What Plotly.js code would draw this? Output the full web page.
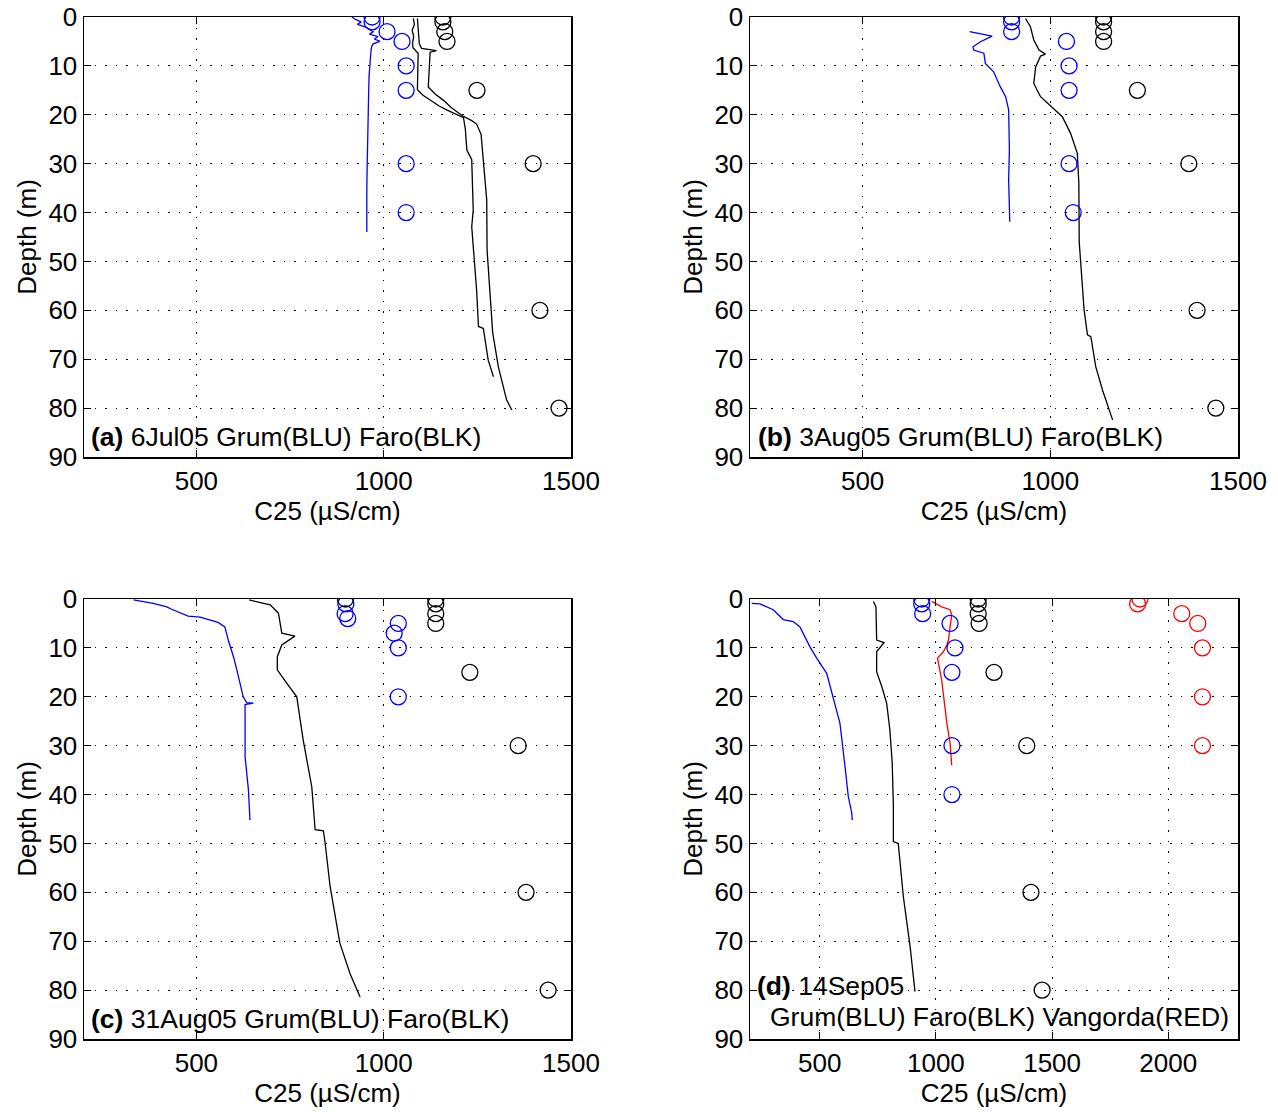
<!DOCTYPE html>
<html>
<head>
<meta charset="utf-8">
<script src="https://cdn.plot.ly/plotly-3.0.1.min.js"></script>
<style>html,body{margin:0;padding:0;background:#fff;}#chart{width:1278px;height:1112px;}</style>
</head>
<body>
<div id="chart"></div>
<script>
// ---------- Panel (a) 6Jul05 ----------
const aGrumLineC = [915, 925, 940, 930, 950, 960, 972, 962, 985, 975, 990, 972, 968, 966, 965, 963, 961, 960, 958, 957, 956, 955, 955, 955];
const aGrumLineD = [0, 0.5, 1, 1.5, 2, 2.5, 3, 3.5, 4, 4.5, 5, 5.5, 6, 7, 8, 10, 12, 15, 20, 25, 30, 35, 40, 44];
const aFaro1C = [1079, 1082, 1076, 1080, 1077, 1078, 1092, 1090, 1105, 1124, 1148, 1168, 1195, 1213, 1218, 1222, 1235, 1239, 1235, 1248, 1253, 1266, 1279, 1293];
const aFaro1D = [0.3, 1.5, 2.7, 4, 5.4, 6.3, 7.4, 14.9, 16, 17, 18.2, 19, 19.9, 20.6, 23, 27.2, 29.2, 39.5, 42.9, 55.8, 63.3, 63.7, 70.2, 73.6];
const aFaro2C = [1090, 1092, 1095, 1101, 1141, 1124, 1119, 1138, 1159, 1180, 1210, 1235, 1248, 1260, 1266, 1275, 1276, 1291, 1306, 1319, 1328, 1342];
const aFaro2D = [0.3, 3, 5.4, 6.4, 6.9, 7.2, 14.3, 15.8, 17, 18.5, 20.2, 21.2, 21.9, 24, 29.2, 37.4, 47.7, 64.6, 71.5, 75.6, 78.3, 80.4];
const aGrumPtC = [969, 969, 1009, 1049, 1060, 1060, 1060, 1060];
const aGrumPtD = [0, 1, 3, 5, 10, 15, 30, 40];
const aFaroPtC = [1158, 1158, 1163, 1169, 1249, 1399, 1417, 1468];
const aFaroPtD = [0, 1, 3, 5, 15, 30, 60, 80];

// ---------- Panel (b) 3Aug05 ----------
const bGrumLineC = [785, 845, 814, 794, 796, 823, 827, 849, 867, 881, 889, 891, 889, 892];
const bGrumLineD = [3.0, 3.9, 5.05, 6.1, 6.75, 7.4, 9.5, 11.2, 14.3, 16.3, 19, 27.2, 33.3, 41.9];
const bFaroLineC = [934, 947, 956, 970, 987, 974, 961, 956, 974, 1001, 1032, 1054, 1072, 1076, 1077, 1090, 1099, 1108, 1121, 1139, 1166];
const bFaroLineD = [0.3, 2, 4.7, 6.75, 7.6, 8, 10.2, 13.6, 16.3, 18.3, 20.4, 23.8, 27.9, 34, 46, 59.9, 65, 65.4, 71.5, 76.3, 82.4];
const bGrumPtC = [897, 897, 897, 1043, 1050, 1050, 1050, 1061];
const bGrumPtD = [0, 1, 3, 5, 10, 15, 30, 40];
const bFaroPtC = [1142, 1142, 1142, 1142, 1232, 1369, 1391, 1441];
const bFaroPtD = [0, 1, 3, 5, 15, 30, 60, 80];

// ---------- Panel (c) 31Aug05 ----------
const cGrumLineC = [332, 385, 421, 434, 478, 510, 558, 576, 585, 599, 608, 616, 625, 634, 652, 630, 630, 639, 643];
const cGrumLineD = [0.2, 0.9, 1.6, 2.1, 3.5, 3.7, 4.8, 5.7, 8.4, 11.8, 14.5, 17.2, 20, 21.2, 21.3, 21.6, 32.3, 39.1, 45.2];
const cFaroLineC = [641, 697, 719, 728, 763, 728, 716, 716, 741, 768, 785, 808, 817, 839, 843, 857, 883, 910, 937];
const cFaroLineD = [0.2, 1.2, 2.9, 7, 7.6, 9.4, 11.8, 14.5, 17.2, 20, 28.8, 38.4, 47.2, 47.4, 49.5, 58.8, 70.4, 76.6, 81.4];
const cGrumPtC = [899, 897, 904, 1039, 1028, 1039, 1039];
const cGrumPtD = [1, 3, 4, 5, 7, 10, 20];
const cFaroPtC = [898, 1139, 1139, 1139, 1139, 1230, 1359, 1380, 1439];
const cFaroPtD = [0, 0, 1, 3, 5, 15, 30, 60, 80];

// ---------- Panel (d) 14Sep05 ----------
const dGrumLineC = [207, 243, 300, 343, 386, 415, 458, 487, 530, 558, 587, 609, 623, 638, 640];
const dGrumLineD = [0.9, 1, 2.2, 4.2, 4.6, 5.7, 9.8, 12.1, 15.2, 20, 25.4, 34.3, 40.4, 43.8, 45.2];
const dFaroLineC = [731, 742, 745, 777, 745, 745, 767, 788, 802, 812, 817, 817, 838, 860, 889, 910];
const dFaroLineD = [0.5, 1.6, 8.4, 8.9, 10.8, 14.9, 17.9, 21.3, 26.8, 33.6, 42.5, 49.6, 50, 60.9, 71.1, 80.3];
const dVangLineC = [982, 1025, 1061, 1068, 1061, 1054, 1047, 1032, 1007, 1015, 1025, 1047, 1061, 1068];
const dVangLineD = [0.5, 1.6, 2.2, 3.3, 5.7, 8.4, 9.4, 10.8, 12.1, 14.5, 16.6, 25.4, 29.5, 34];
const dGrumPtC = [939, 939, 943, 1061, 1082, 1069, 1069, 1069];
const dGrumPtD = [0, 1, 3, 5, 10, 15, 30, 40];
const dFaroPtC = [1182, 1182, 1182, 1186, 1250, 1391, 1409, 1457];
const dFaroPtD = [0, 1, 3, 5, 15, 30, 60, 80];
const dVangPtC = [1878, 1868, 2058, 2127, 2147, 2147, 2147];
const dVangPtD = [0, 1, 3, 5, 10, 20, 30];

const panelLabels = ['(a)', '(b)', '(c)', '(d)'];
const panelTexts = [' 6Jul05 Grum(BLU) Faro(BLK)', ' 3Aug05 Grum(BLU) Faro(BLK)', ' 31Aug05 Grum(BLU) Faro(BLK)', ' 14Sep05'];
const panelText2 = 'Grum(BLU) Faro(BLK) Vangorda(RED)';

const BLUE = '#0000ff', BLACK = '#000000', RED = '#ff0000';
const FONT = 'Liberation Sans, Arial, Helvetica, sans-serif';

function line(x, y, color, ax) {
  return {x: x, y: y, mode: 'lines', type: 'scatter', line: {color: color, width: 1.3},
          xaxis: 'x' + ax, yaxis: 'y' + ax, hoverinfo: 'skip', showlegend: false};
}
function pts(x, y, color, ax) {
  return {x: x, y: y, mode: 'markers', type: 'scatter',
          marker: {symbol: 'circle-open', size: 16, color: color, line: {color: color, width: 1.3}},
          xaxis: 'x' + ax, yaxis: 'y' + ax, hoverinfo: 'skip', showlegend: false};
}

const data = [
  line(aGrumLineC, aGrumLineD, BLUE, ''), line(aFaro1C, aFaro1D, BLACK, ''), line(aFaro2C, aFaro2D, BLACK, ''),
  pts(aGrumPtC, aGrumPtD, BLUE, ''), pts(aFaroPtC, aFaroPtD, BLACK, ''),
  line(bGrumLineC, bGrumLineD, BLUE, '2'), line(bFaroLineC, bFaroLineD, BLACK, '2'),
  pts(bGrumPtC, bGrumPtD, BLUE, '2'), pts(bFaroPtC, bFaroPtD, BLACK, '2'),
  line(cGrumLineC, cGrumLineD, BLUE, '3'), line(cFaroLineC, cFaroLineD, BLACK, '3'),
  pts(cGrumPtC, cGrumPtD, BLUE, '3'), pts(cFaroPtC, cFaroPtD, BLACK, '3'),
  line(dGrumLineC, dGrumLineD, BLUE, '4'), line(dFaroLineC, dFaroLineD, BLACK, '4'), line(dVangLineC, dVangLineD, RED, '4'),
  pts(dGrumPtC, dGrumPtD, BLUE, '4'), pts(dFaroPtC, dFaroPtD, BLACK, '4'), pts(dVangPtC, dVangPtD, RED, '4')
];

const W = 1278, H = 1112;
const colX = [[84 / W, 571 / W], [750 / W, 1238 / W]];
const rowY = [[1 - 457 / H, 1 - 17 / H], [1 - 1039 / H, 1 - 599 / H]];

function xax(dom, range, ticks) {
  return {domain: dom, range: range, tickvals: ticks, ticks: 'inside', ticklen: 7, tickwidth: 1,
          tickcolor: '#000', mirror: 'ticks', showline: true, linecolor: '#000', linewidth: 1.5,
          showgrid: true, gridcolor: '#000', gridwidth: 1, griddash: '1.5px,9px', zeroline: false,
          tickfont: {family: FONT, size: 26, color: '#000'},
          title: {text: 'C25 (µS/cm)', font: {family: FONT, size: 26, color: '#000'}, standoff: 6}};
}
function yax(dom, anchor) {
  return {domain: dom, range: [90, 0], dtick: 10, tick0: 0, ticks: 'inside', ticklen: 7, tickwidth: 1,
          tickcolor: '#000', mirror: 'ticks', showline: true, linecolor: '#000', linewidth: 1.5,
          showgrid: true, gridcolor: '#000', gridwidth: 1, griddash: '1.5px,9px', zeroline: false,
          anchor: anchor, tickfont: {family: FONT, size: 26, color: '#000'},
          title: {text: 'Depth (m)', font: {family: FONT, size: 26, color: '#000'}, standoff: 4}};
}

const AF = {family: FONT, size: 26.5, color: '#000'};
const layout = {
  width: W, height: H, margin: {l: 0, r: 0, t: 0, b: 0}, paper_bgcolor: '#fff', plot_bgcolor: '#fff',
  showlegend: false, font: {family: FONT, size: 26, color: '#000'},
  xaxis: Object.assign(xax(colX[0], [200, 1500], [500, 1000, 1500]), {anchor: 'y'}),
  yaxis: yax(rowY[0], 'x'),
  xaxis2: Object.assign(xax(colX[1], [200, 1500], [500, 1000, 1500]), {anchor: 'y2'}),
  yaxis2: yax(rowY[0], 'x2'),
  xaxis3: Object.assign(xax(colX[0], [200, 1500], [500, 1000, 1500]), {anchor: 'y3'}),
  yaxis3: yax(rowY[1], 'x3'),
  xaxis4: Object.assign(xax(colX[1], [200, 2300], [500, 1000, 1500, 2000]), {anchor: 'y4'}),
  yaxis4: yax(rowY[1], 'x4'),
  annotations: [
    {xref: 'x', yref: 'y', x: 214, y: 86, text: '<b>' + panelLabels[0] + '</b>' + panelTexts[0], showarrow: false, xanchor: 'left', yanchor: 'middle', font: AF},
    {xref: 'x2', yref: 'y2', x: 216, y: 86, text: '<b>' + panelLabels[1] + '</b>' + panelTexts[1], showarrow: false, xanchor: 'left', yanchor: 'middle', font: AF},
    {xref: 'x3', yref: 'y3', x: 214, y: 86, text: '<b>' + panelLabels[2] + '</b>' + panelTexts[2], showarrow: false, xanchor: 'left', yanchor: 'middle', font: AF},
    {xref: 'x4', yref: 'y4', x: 222, y: 79.2, text: '<b>' + panelLabels[3] + '</b>' + panelTexts[3], showarrow: false, xanchor: 'left', yanchor: 'middle', font: AF},
    {xref: 'x4', yref: 'y4', x: 278, y: 85.4, text: panelText2, showarrow: false, xanchor: 'left', yanchor: 'middle', font: AF}
  ]
};

Plotly.newPlot('chart', data, layout, {staticPlot: true, displayModeBar: false});
</script>
</body>
</html>
